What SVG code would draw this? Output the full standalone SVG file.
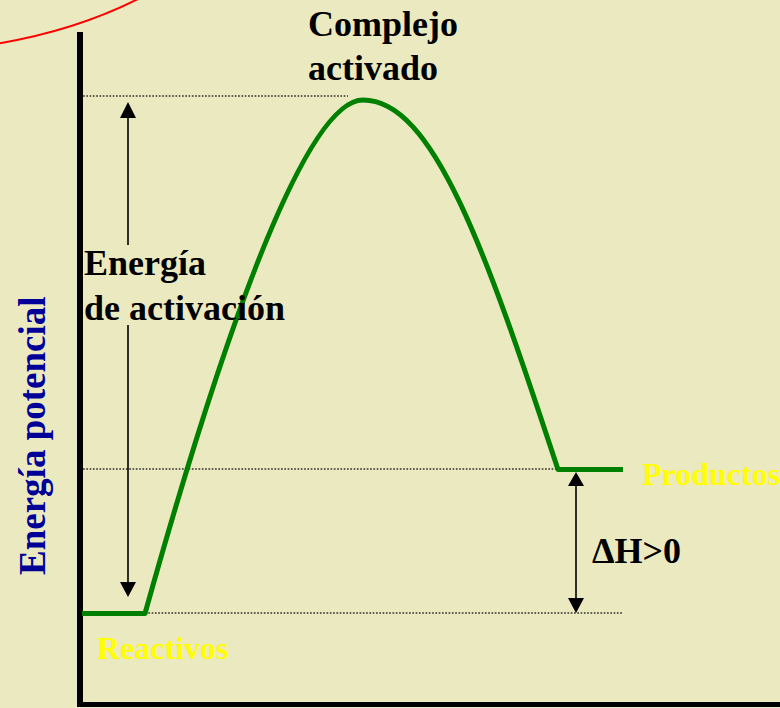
<svg xmlns="http://www.w3.org/2000/svg" width="780" height="708" viewBox="0 0 780 708">
<style>
.t{font-family:"Liberation Serif","Times New Roman",serif;font-weight:bold;font-size:36px}
.y{font-size:32px;fill:#FFFF00}
.dot{stroke:#333;stroke-width:1.5;stroke-dasharray:1.7 1.6;fill:none}
.arr{stroke:#000;stroke-width:1.6;fill:none}
.ah{fill:#000}
.curve{stroke:#008000;stroke-width:5;fill:none;stroke-linejoin:round}
</style>
<rect width="780" height="708" fill="#EBE9BF"/>
<path d="M-5,44 Q75,31 140,-2" stroke="#FF0000" stroke-width="2" fill="none"/>
<g id="axes">
<line x1="80" y1="32" x2="80" y2="707" stroke="#000" stroke-width="6"/>
<line x1="77" y1="704.5" x2="780" y2="704.5" stroke="#000" stroke-width="5"/>
</g>
<g id="connectors">
<line class="dot" x1="83" y1="96" x2="348" y2="96"/>
<line class="dot" x1="83" y1="469" x2="560" y2="469"/>
<line class="dot" x1="145" y1="613" x2="622" y2="613"/>
<line class="arr" x1="128" y1="116" x2="128" y2="245"/>
<line class="arr" x1="128" y1="325" x2="128" y2="584"/>
<polygon class="ah" points="128,102 120,118 136,118"/>
<polygon class="ah" points="128,597 120,582 136,582"/>
<line class="arr" x1="576" y1="483" x2="576" y2="600"/>
<polygon class="ah" points="576,472 568,486 584,486"/>
<polygon class="ah" points="576,613 568,598 584,598"/>
</g>
<g id="curve">
<path class="curve" d="M82,613.5 L145,613.5 C229,313 308,100 363,100 C433,100 485,248 558,469.5 L623,469.5"/>
</g>
<g id="label-complejo">
<text class="t" x="308" y="36">Complejo</text>
<text class="t" x="308" y="80">activado</text>
</g>
<g id="label-energia-activacion">
<text class="t" x="84" y="275">Energía</text>
<text class="t" x="84" y="320">de activación</text>
</g>
<g id="label-dh">
<text class="t" x="592" y="563">ΔH&gt;0</text>
</g>
<g id="label-productos">
<text class="t y" x="642" y="485">Productos</text>
</g>
<g id="label-reactivos">
<text class="t y" x="97" y="659">Reactivos</text>
</g>
<g id="label-y">
<text class="t" x="0" y="0" fill="#000099" style="font-size:37px" transform="translate(45,575) rotate(-90)">Energía potencial</text>
</g>
</svg>
